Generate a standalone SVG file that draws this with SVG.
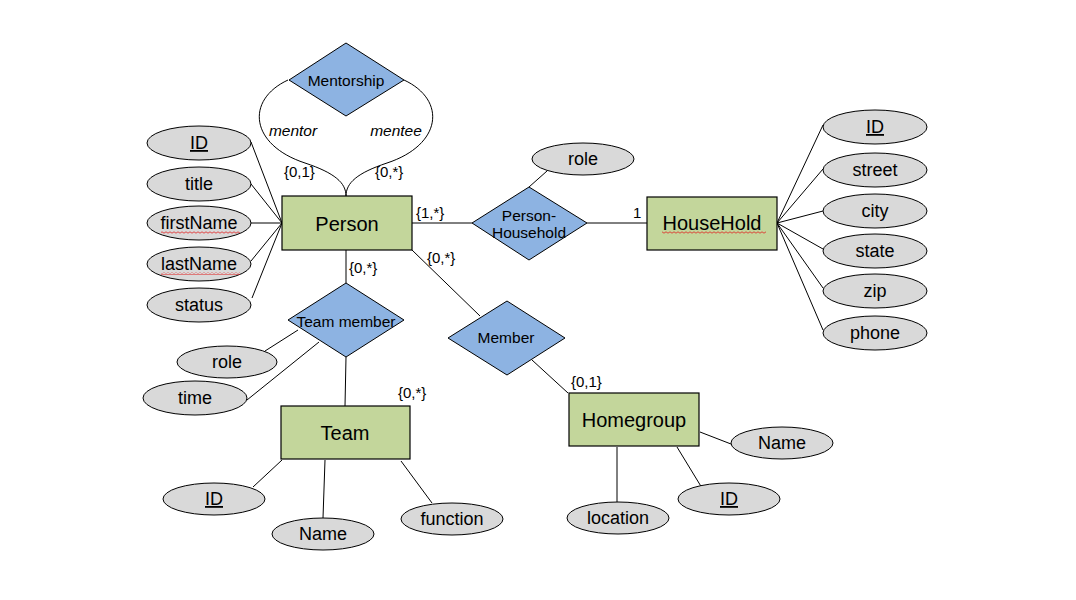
<svg xmlns="http://www.w3.org/2000/svg" width="1076" height="600" viewBox="0 0 1076 600">
  <defs>
    <style>
      .ent { fill: #C3D69B; stroke: #000; stroke-width: 1.2; }
      .rel { fill: #8DB3E2; stroke: #000; stroke-width: 1; }
      .att { fill: #D9D9D9; stroke: #000; stroke-width: 1; }
      .ln { fill: none; stroke: #000; stroke-width: 1; }
      text { font-family: "Liberation Sans", Arial, sans-serif; fill: #000; }
      .et { font-size: 20px; text-anchor: middle; }
      .at { font-size: 18px; text-anchor: middle; }
      .rt { font-size: 15.5px; text-anchor: middle; }
      .card { font-size: 15px; }
      .role { font-size: 15.5px; font-style: italic; text-anchor: middle; }
      .key { text-decoration: underline; }
      .squig { fill: url(#wave); }
    </style>
    <pattern id="wave" width="4" height="3" patternUnits="userSpaceOnUse">
      <path d="M0,2.2 L2,0.8 L4,2.2" fill="none" stroke="#E02020" stroke-width="0.8"/>
    </pattern>
  </defs>

  <!-- connectors -->
  <g id="connectors">
    <!-- Mentorship recursive links -->
    <path class="ln" d="M288,80 C245,100 250,145 305,163 C335,173 346,183 346,196"/>
    <path class="ln" d="M404,80 C447,100 442,145 387,163 C357,173 346,183 346,196"/>
    <!-- Person attributes -->
    <line class="ln" x1="282" y1="223" x2="251" y2="142"/>
    <line class="ln" x1="282" y1="223" x2="251" y2="184"/>
    <line class="ln" x1="282" y1="223" x2="251" y2="223"/>
    <line class="ln" x1="282" y1="223" x2="251" y2="261"/>
    <line class="ln" x1="282" y1="223" x2="252" y2="298"/>
    <!-- Person - Household -->
    <line class="ln" x1="412" y1="223" x2="472" y2="223"/>
    <line class="ln" x1="587" y1="223" x2="647" y2="223"/>
    <line class="ln" x1="529" y1="187" x2="547" y2="171"/>
    <!-- HouseHold attributes -->
    <line class="ln" x1="777" y1="223" x2="823" y2="125"/>
    <line class="ln" x1="777" y1="223" x2="823" y2="169"/>
    <line class="ln" x1="777" y1="223" x2="823" y2="211"/>
    <line class="ln" x1="777" y1="223" x2="823" y2="249"/>
    <line class="ln" x1="777" y1="223" x2="823" y2="288"/>
    <line class="ln" x1="777" y1="223" x2="823" y2="330"/>
    <!-- Team member -->
    <line class="ln" x1="346" y1="250" x2="346" y2="283"/>
    <line class="ln" x1="346" y1="357" x2="345" y2="406"/>
    <line class="ln" x1="265" y1="351" x2="298" y2="330"/>
    <line class="ln" x1="247" y1="400" x2="319" y2="342"/>
    <!-- Team attributes -->
    <line class="ln" x1="282" y1="460" x2="253" y2="487"/>
    <line class="ln" x1="325" y1="460" x2="323" y2="518"/>
    <line class="ln" x1="401" y1="461" x2="432" y2="503"/>
    <!-- Member -->
    <line class="ln" x1="412" y1="250" x2="480" y2="316"/>
    <line class="ln" x1="532" y1="360" x2="568" y2="393"/>
    <!-- Homegroup attributes -->
    <line class="ln" x1="700" y1="432" x2="731" y2="444"/>
    <line class="ln" x1="677" y1="447" x2="702" y2="488"/>
    <line class="ln" x1="617" y1="447" x2="617" y2="502"/>
  </g>

  <!-- cardinalities and roles -->
  <g id="labels">
    <text class="role" x="293" y="136">mentor</text>
    <text class="role" x="396" y="136">mentee</text>
    <text class="card" x="284" y="177">{0,1}</text>
    <text class="card" x="375" y="177">{0,*}</text>
    <text class="card" x="416" y="218">{1,*}</text>
    <text class="card" x="349" y="273">{0,*}</text>
    <text class="card" x="427" y="263">{0,*}</text>
    <text class="card" x="633" y="218">1</text>
    <text class="card" x="398" y="398">{0,*}</text>
    <text class="card" x="571" y="387">{0,1}</text>
  </g>

  <!-- entities -->
  <g id="person">
    <rect class="ent" x="282" y="196" width="130" height="54"/>
    <text class="et" x="347" y="231">Person</text>
  </g>
  <g id="household">
    <rect class="ent" x="647" y="197" width="130" height="53"/>
    <text class="et" x="712" y="230">HouseHold</text>
    <rect class="squig" x="662" y="231" width="104" height="3"/>
  </g>
  <g id="team">
    <rect class="ent" x="281" y="406" width="129" height="53"/>
    <text class="et" x="345" y="440">Team</text>
  </g>
  <g id="homegroup">
    <rect class="ent" x="569" y="393" width="130" height="53"/>
    <text class="et" x="634" y="427">Homegroup</text>
  </g>

  <!-- relationships -->
  <g id="mentorship">
    <polygon class="rel" points="346,43 404,80 346,116 289,80"/>
    <text class="rt" x="346" y="86">Mentorship</text>
  </g>
  <g id="person-household">
    <polygon class="rel" points="529,187 587,223 529,260 472,223"/>
    <text class="rt" x="529" y="221">Person-</text>
    <text class="rt" x="529" y="238">Household</text>
  </g>
  <g id="team-member">
    <polygon class="rel" points="346,283 404,320 346,357 288,320"/>
    <text class="rt" x="346" y="327">Team member</text>
  </g>
  <g id="member">
    <polygon class="rel" points="507,301 565,338 507,375 448,338"/>
    <text class="rt" x="506" y="343">Member</text>
  </g>

  <!-- Person attributes -->
  <g id="person-id">
    <ellipse class="att" cx="199" cy="143" rx="52" ry="17"/>
    <text class="at key" x="199" y="149">ID</text>
  </g>
  <g id="person-title">
    <ellipse class="att" cx="199" cy="184" rx="52" ry="17"/>
    <text class="at" x="199" y="190">title</text>
  </g>
  <g id="person-firstname">
    <ellipse class="att" cx="199" cy="223" rx="52" ry="17"/>
    <text class="at" x="199" y="229">firstName</text>
    <rect class="squig" x="161" y="231" width="79" height="3"/>
  </g>
  <g id="person-lastname">
    <ellipse class="att" cx="199" cy="264" rx="52" ry="17"/>
    <text class="at" x="199" y="270">lastName</text>
    <rect class="squig" x="161" y="272" width="79" height="3"/>
  </g>
  <g id="person-status">
    <ellipse class="att" cx="199" cy="305" rx="52" ry="17"/>
    <text class="at" x="199" y="311">status</text>
  </g>

  <!-- Person-Household attribute -->
  <g id="ph-role">
    <ellipse class="att" cx="583" cy="159" rx="51" ry="16"/>
    <text class="at" x="583" y="165">role</text>
  </g>

  <!-- HouseHold attributes -->
  <g id="hh-id">
    <ellipse class="att" cx="875" cy="127" rx="52" ry="17"/>
    <text class="at key" x="875" y="133">ID</text>
  </g>
  <g id="hh-street">
    <ellipse class="att" cx="875" cy="170" rx="52" ry="17"/>
    <text class="at" x="875" y="176">street</text>
  </g>
  <g id="hh-city">
    <ellipse class="att" cx="875" cy="211" rx="52" ry="17"/>
    <text class="at" x="875" y="217">city</text>
  </g>
  <g id="hh-state">
    <ellipse class="att" cx="875" cy="251" rx="52" ry="17"/>
    <text class="at" x="875" y="257">state</text>
  </g>
  <g id="hh-zip">
    <ellipse class="att" cx="875" cy="291" rx="52" ry="17"/>
    <text class="at" x="875" y="297">zip</text>
  </g>
  <g id="hh-phone">
    <ellipse class="att" cx="875" cy="333" rx="52" ry="17"/>
    <text class="at" x="875" y="339">phone</text>
  </g>

  <!-- Team member attributes -->
  <g id="tm-role">
    <ellipse class="att" cx="227" cy="362" rx="50" ry="16"/>
    <text class="at" x="227" y="368">role</text>
  </g>
  <g id="tm-time">
    <ellipse class="att" cx="195" cy="398" rx="52" ry="17"/>
    <text class="at" x="195" y="404">time</text>
  </g>

  <!-- Team attributes -->
  <g id="team-id">
    <ellipse class="att" cx="214" cy="499" rx="51" ry="16"/>
    <text class="at key" x="214" y="505">ID</text>
  </g>
  <g id="team-name">
    <ellipse class="att" cx="323" cy="534" rx="51" ry="16"/>
    <text class="at" x="323" y="540">Name</text>
  </g>
  <g id="team-function">
    <ellipse class="att" cx="452" cy="519" rx="51" ry="16"/>
    <text class="at" x="452" y="525">function</text>
  </g>

  <!-- Homegroup attributes -->
  <g id="hg-name">
    <ellipse class="att" cx="782" cy="443" rx="51" ry="16"/>
    <text class="at" x="782" y="449">Name</text>
  </g>
  <g id="hg-id">
    <ellipse class="att" cx="729" cy="499" rx="51" ry="16"/>
    <text class="at key" x="729" y="505">ID</text>
  </g>
  <g id="hg-location">
    <ellipse class="att" cx="618" cy="518" rx="51" ry="16"/>
    <text class="at" x="618" y="524">location</text>
  </g>
</svg>
